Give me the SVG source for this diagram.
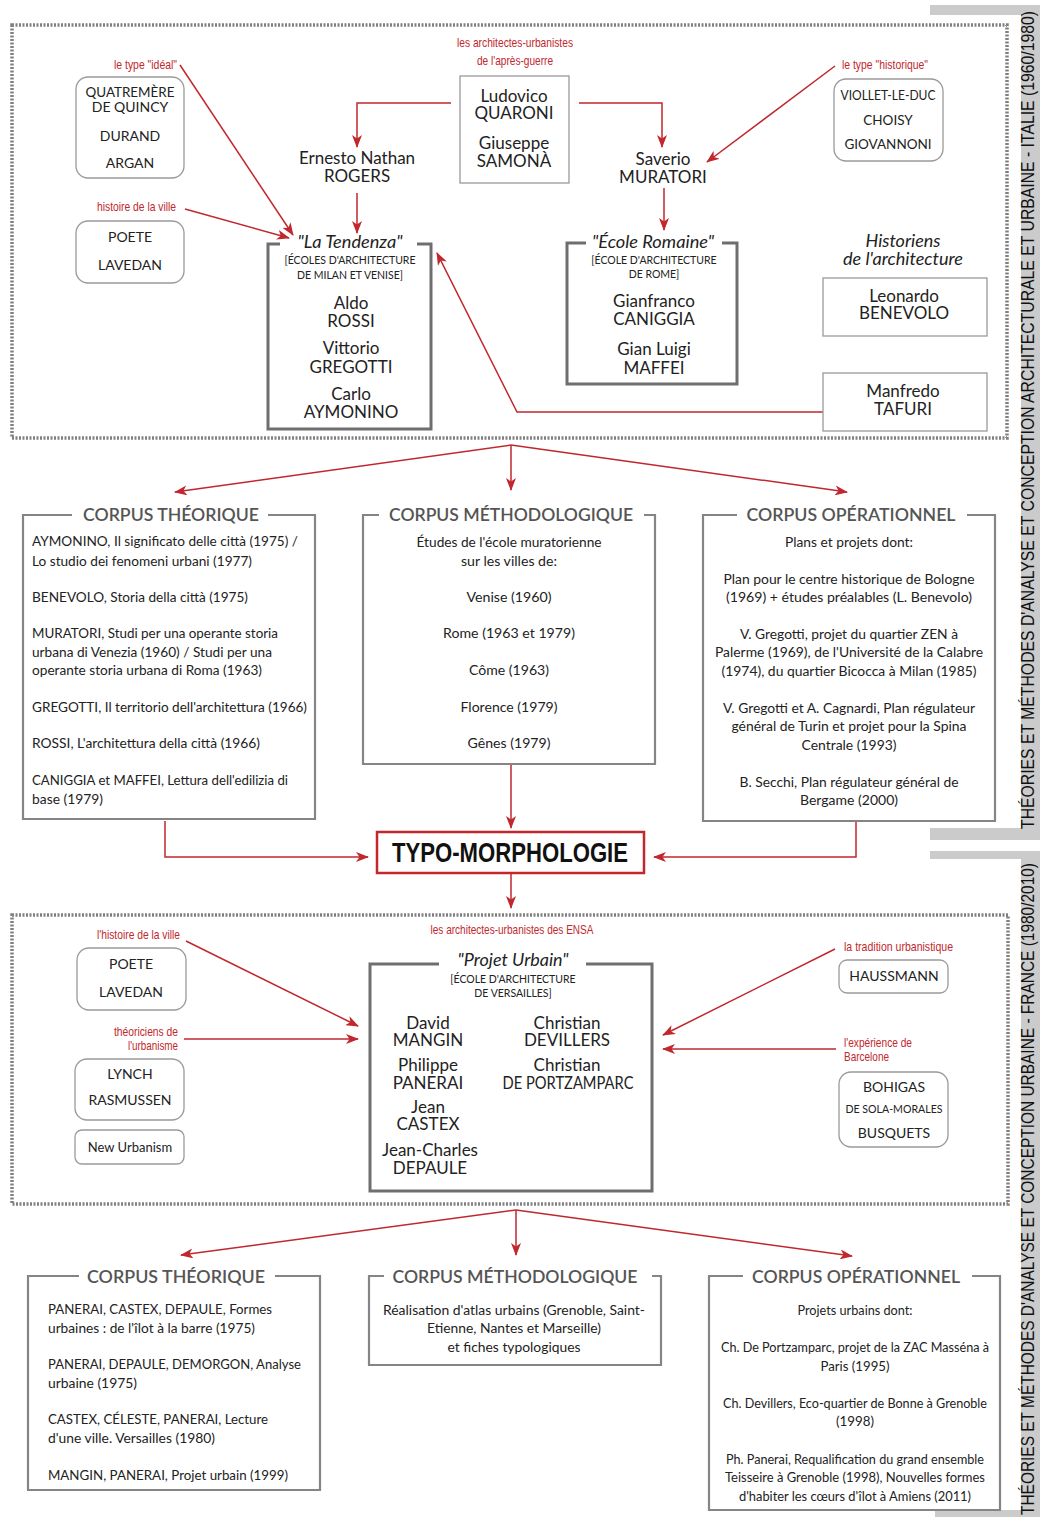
<svg xmlns="http://www.w3.org/2000/svg" width="1040" height="1517" viewBox="0 0 1040 1517">
<style>
text{font-family:Lato,"Open Sans","Liberation Sans",sans-serif;fill:#222;text-anchor:middle}
.nm{font-size:17px}
.sm{font-size:14px}
.xs{font-size:10.5px}
.it{font-style:italic;font-size:17.5px}
.rd{font-family:"Liberation Sans",Arial,sans-serif;font-size:13px;fill:#c1272d}
.st{text-anchor:start}
.en{text-anchor:end}
.bd{font-size:13.5px}
.ct{font-size:17px;fill:#555;font-weight:600}
.rb{fill:#fff;stroke:#9a9a9a;stroke-width:1.3}
.sq{fill:#fff;stroke:#9a9a9a;stroke-width:1.3}
.fr{fill:none;stroke:#6e6e6e;stroke-width:3}
.cf{fill:none;stroke:#858585;stroke-width:2.2}
.dot{fill:none;stroke:#808080;stroke-width:3.5;stroke-dasharray:2 1.5}
.band{fill:#cbcbcb}
.vt{text-anchor:start;font-family:"Liberation Sans",Arial,sans-serif;font-size:18px;fill:#111}
.cn{fill:none;stroke:#c1272d;stroke-width:1.5;marker-end:url(#ah)}
</style>
<defs>
<marker id="ah" markerWidth="13" markerHeight="10" refX="12" refY="5" orient="auto" markerUnits="userSpaceOnUse">
<path d="M0,0 L13,5 L0,10 L3.5,5 Z" fill="#c1272d"/>
</marker>
</defs>
<rect width="1040" height="1517" fill="#fff"/>

<g id="band-italie">
<rect class="band" x="930" y="5" width="110" height="10"/>
<rect class="band" x="1021" y="5" width="19" height="835"/>
<rect class="band" x="930" y="828" width="110" height="12"/>
<text class="vt" transform="translate(1034,829) rotate(-90)" x="0" y="0" textLength="818" lengthAdjust="spacingAndGlyphs">THÉORIES ET MÉTHODES D'ANALYSE ET CONCEPTION ARCHITECTURALE ET URBAINE - ITALIE (1960/1980)</text>
</g>
<g id="band-france">
<rect class="band" x="930" y="851" width="110" height="8"/>
<rect class="band" x="1021" y="851" width="19" height="666"/>
<rect class="band" x="935" y="1510" width="105" height="7"/>
<text class="vt" transform="translate(1034,1515) rotate(-90)" x="0" y="0" textLength="652" lengthAdjust="spacingAndGlyphs">THÉORIES ET MÉTHODES D'ANALYSE ET CONCEPTION URBAINE - FRANCE (1980/2010)</text>
</g>

<rect id="frame-italie" class="dot" x="12" y="25" width="995" height="413"/>
<rect id="frame-france" class="dot" x="12" y="915" width="996" height="289"/>

<g id="connectors">
<path class="cn" d="M451,103 H357 V147"/>
<path class="cn" d="M579,103 H662 V147"/>
<path class="cn" d="M180,65 L293,235"/>
<path class="cn" d="M185,209 L289,238"/>
<path class="cn" d="M835,66 L707,162"/>
<path class="cn" d="M357,193 V233"/>
<path class="cn" d="M664,188 V230"/>
<path class="cn" d="M823,412 H517 L437,253"/>
<path class="cn" d="M511,445 L175,492"/>
<path class="cn" d="M511,445 V490"/>
<path class="cn" d="M511,445 L847,492"/>
<path class="cn" d="M165,821 V857 H368"/>
<path class="cn" d="M856,821 V857 H654"/>
<path class="cn" d="M511,765 V828"/>
<path class="cn" d="M511,873 V908"/>
<path class="cn" d="M186,941 L358,1026"/>
<path class="cn" d="M184,1039 H358"/>
<path class="cn" d="M835,949 L663,1035"/>
<path class="cn" d="M836,1049 H663"/>
<path class="cn" d="M516,1210 L181,1255"/>
<path class="cn" d="M516,1210 V1255"/>
<path class="cn" d="M516,1210 L852,1256"/>
</g>

<g id="lbl-ideal"><text class="rd en" x="177" y="69" textLength="63" lengthAdjust="spacingAndGlyphs">le type "idéal"</text></g>
<g id="node-quatremere">
<rect class="rb" x="76" y="77" width="108" height="101" rx="12"/>
<text class="sm" x="130" y="97" textLength="89" lengthAdjust="spacingAndGlyphs">QUATREMÈRE</text>
<text class="sm" x="130" y="112">DE QUINCY</text>
<text class="sm" x="130" y="141">DURAND</text>
<text class="sm" x="130" y="168">ARGAN</text>
</g>
<g id="lbl-histoire1"><text class="rd en" x="176" y="211" textLength="79" lengthAdjust="spacingAndGlyphs">histoire de la ville</text></g>
<g id="node-poete1">
<rect class="rb" x="76" y="221" width="108" height="62" rx="12"/>
<text class="sm" x="130" y="242">POETE</text>
<text class="sm" x="130" y="270">LAVEDAN</text>
</g>
<g id="lbl-apres-guerre">
<text class="rd" x="515" y="47" textLength="116" lengthAdjust="spacingAndGlyphs">les architectes-urbanistes</text>
<text class="rd" x="515" y="65" textLength="76" lengthAdjust="spacingAndGlyphs">de l'après-guerre</text>
</g>
<g id="node-quaroni">
<rect class="sq" x="460" y="76" width="109" height="107"/>
<text class="nm" x="514" y="102">Ludovico</text>
<text class="nm" x="514" y="119">QUARONI</text>
<text class="nm" x="514" y="149">Giuseppe</text>
<text class="nm" x="514" y="167">SAMONÀ</text>
</g>
<g id="node-rogers">
<text class="nm" x="357" y="164">Ernesto Nathan</text>
<text class="nm" x="357" y="182">ROGERS</text>
</g>
<g id="node-muratori">
<text class="nm" x="663" y="165">Saverio</text>
<text class="nm" x="663" y="183">MURATORI</text>
</g>
<g id="lbl-historique"><text class="rd st" x="842" y="69" textLength="86" lengthAdjust="spacingAndGlyphs">le type "historique"</text></g>
<g id="node-viollet">
<rect class="rb" x="834" y="79" width="109" height="82" rx="12"/>
<text x="888" y="100" style="font-size:13.5px" textLength="95" lengthAdjust="spacingAndGlyphs">VIOLLET-LE-DUC</text>
<text x="888" y="125" style="font-size:13.5px">CHOISY</text>
<text x="888" y="149" style="font-size:13.5px">GIOVANNONI</text>
</g>
<g id="node-tendenza">
<path class="fr" d="M280,244 H268 V429 H431 V244 H417"/>
<text class="it" x="350" y="248" textLength="105" lengthAdjust="spacingAndGlyphs">"La Tendenza"</text>
<text class="xs" x="350" y="264">[ÉCOLES D'ARCHITECTURE</text>
<text class="xs" x="350" y="279">DE MILAN ET VENISE]</text>
<text class="nm" x="351" y="309">Aldo</text>
<text class="nm" x="351" y="327">ROSSI</text>
<text class="nm" x="351" y="354">Vittorio</text>
<text class="nm" x="351" y="373">GREGOTTI</text>
<text class="nm" x="351" y="400">Carlo</text>
<text class="nm" x="351" y="418">AYMONINO</text>
</g>
<g id="node-romaine">
<path class="fr" d="M586,243 H567 V384 H737 V243 H722"/>
<text class="it" x="653" y="248" textLength="122" lengthAdjust="spacingAndGlyphs">"École Romaine"</text>
<text class="xs" x="654" y="264">[ÉCOLE D'ARCHITECTURE</text>
<text class="xs" x="654" y="278">DE ROME]</text>
<text class="nm" x="654" y="307">Gianfranco</text>
<text class="nm" x="654" y="325">CANIGGIA</text>
<text class="nm" x="654" y="355">Gian Luigi</text>
<text class="nm" x="654" y="374">MAFFEI</text>
</g>
<g id="lbl-historiens">
<text class="it" x="903" y="247" textLength="75" lengthAdjust="spacingAndGlyphs">Historiens</text>
<text class="it" x="903" y="265" textLength="120" lengthAdjust="spacingAndGlyphs">de l'architecture</text>
</g>
<g id="node-benevolo">
<rect class="sq" x="823" y="278" width="164" height="58"/>
<text class="nm" x="904" y="302">Leonardo</text>
<text class="nm" x="904" y="319">BENEVOLO</text>
</g>
<g id="node-tafuri">
<rect class="sq" x="823" y="373" width="164" height="58"/>
<text class="nm" x="903" y="397">Manfredo</text>
<text class="nm" x="903" y="415">TAFURI</text>
</g>

<g id="corpus-theo-1">
<path class="cf" d="M72,515 H23 V819 H315 V515 H268"/>
<text class="ct" x="171" y="521" textLength="176" lengthAdjust="spacingAndGlyphs">CORPUS THÉORIQUE</text>
<text class="bd st" x="32" y="546" textLength="266" lengthAdjust="spacingAndGlyphs">AYMONINO, Il significato delle città (1975) /</text>
<text class="bd st" x="32" y="566" textLength="220" lengthAdjust="spacingAndGlyphs">Lo studio dei fenomeni urbani (1977)</text>
<text class="bd st" x="32" y="602" textLength="216" lengthAdjust="spacingAndGlyphs">BENEVOLO, Storia della città (1975)</text>
<text class="bd st" x="32" y="638" textLength="246" lengthAdjust="spacingAndGlyphs">MURATORI, Studi per una operante storia</text>
<text class="bd st" x="32" y="657" textLength="240" lengthAdjust="spacingAndGlyphs">urbana di Venezia (1960) / Studi per una</text>
<text class="bd st" x="32" y="675" textLength="230" lengthAdjust="spacingAndGlyphs">operante storia urbana di Roma (1963)</text>
<text class="bd st" x="32" y="712" textLength="275" lengthAdjust="spacingAndGlyphs">GREGOTTI, Il territorio dell'architettura (1966)</text>
<text class="bd st" x="32" y="748" textLength="228" lengthAdjust="spacingAndGlyphs">ROSSI, L'architettura della città (1966)</text>
<text class="bd st" x="32" y="785" textLength="256" lengthAdjust="spacingAndGlyphs">CANIGGIA et MAFFEI, Lettura dell'edilizia di</text>
<text class="bd st" x="32" y="804" textLength="71" lengthAdjust="spacingAndGlyphs">base (1979)</text>
</g>
<g id="corpus-meth-1">
<path class="cf" d="M379,515 H363 V764 H655 V515 H644"/>
<text class="ct" x="511" y="521" textLength="244" lengthAdjust="spacingAndGlyphs">CORPUS MÉTHODOLOGIQUE</text>
<text class="bd" x="509" y="547" textLength="185" lengthAdjust="spacingAndGlyphs">Études de l'école muratorienne</text>
<text class="bd" x="509" y="566" textLength="96" lengthAdjust="spacingAndGlyphs">sur les villes de:</text>
<text class="bd" x="509" y="602" textLength="85" lengthAdjust="spacingAndGlyphs">Venise (1960)</text>
<text class="bd" x="509" y="638" textLength="132" lengthAdjust="spacingAndGlyphs">Rome (1963 et 1979)</text>
<text class="bd" x="509" y="675" textLength="80" lengthAdjust="spacingAndGlyphs">Côme (1963)</text>
<text class="bd" x="509" y="712" textLength="97" lengthAdjust="spacingAndGlyphs">Florence (1979)</text>
<text class="bd" x="509" y="748" textLength="83" lengthAdjust="spacingAndGlyphs">Gênes (1979)</text>
</g>
<g id="corpus-oper-1">
<path class="cf" d="M737,515 H703 V821 H995 V515 H967"/>
<text class="ct" x="851" y="521" textLength="209" lengthAdjust="spacingAndGlyphs">CORPUS OPÉRATIONNEL</text>
<text class="bd" x="849" y="547" textLength="128" lengthAdjust="spacingAndGlyphs">Plans et projets dont:</text>
<text class="bd" x="849" y="584" textLength="251" lengthAdjust="spacingAndGlyphs">Plan pour le centre historique de Bologne</text>
<text class="bd" x="849" y="602" textLength="246" lengthAdjust="spacingAndGlyphs">(1969) + études préalables (L. Benevolo)</text>
<text class="bd" x="849" y="639" textLength="218" lengthAdjust="spacingAndGlyphs">V. Gregotti, projet du quartier ZEN à</text>
<text class="bd" x="849" y="657" textLength="268" lengthAdjust="spacingAndGlyphs">Palerme (1969), de l'Université de la Calabre</text>
<text class="bd" x="849" y="676" textLength="255" lengthAdjust="spacingAndGlyphs">(1974), du quartier Bicocca à Milan (1985)</text>
<text class="bd" x="849" y="713" textLength="252" lengthAdjust="spacingAndGlyphs">V. Gregotti et A. Cagnardi, Plan régulateur</text>
<text class="bd" x="849" y="731" textLength="235" lengthAdjust="spacingAndGlyphs">général de Turin et projet pour la Spina</text>
<text class="bd" x="849" y="750" textLength="95" lengthAdjust="spacingAndGlyphs">Centrale (1993)</text>
<text class="bd" x="849" y="787" textLength="219" lengthAdjust="spacingAndGlyphs">B. Secchi, Plan régulateur général de</text>
<text class="bd" x="849" y="805" textLength="98" lengthAdjust="spacingAndGlyphs">Bergame (2000)</text>
</g>

<g id="node-typo">
<rect x="377" y="832" width="267" height="41" fill="#fff" stroke="#c1272d" stroke-width="2.5"/>
<text x="510" y="862" style="font-family:'Liberation Sans',Arial,sans-serif;font-weight:bold;font-size:28px;fill:#111" textLength="236" lengthAdjust="spacingAndGlyphs">TYPO-MORPHOLOGIE</text>
</g>

<g id="lbl-ensa"><text class="rd" x="512" y="934" textLength="163" lengthAdjust="spacingAndGlyphs">les architectes-urbanistes des ENSA</text></g>
<g id="lbl-histoire2"><text class="rd en" x="180" y="939" textLength="83" lengthAdjust="spacingAndGlyphs">l'histoire de la ville</text></g>
<g id="node-poete2">
<rect class="rb" x="77" y="948" width="109" height="62" rx="12"/>
<text class="sm" x="131" y="969">POETE</text>
<text class="sm" x="131" y="997">LAVEDAN</text>
</g>
<g id="lbl-theoriciens">
<text class="rd en" x="178" y="1036" textLength="64" lengthAdjust="spacingAndGlyphs">théoriciens de</text>
<text class="rd en" x="178" y="1050" textLength="50" lengthAdjust="spacingAndGlyphs">l'urbanisme</text>
</g>
<g id="node-lynch">
<rect class="rb" x="75" y="1059" width="109" height="61" rx="12"/>
<text class="sm" x="130" y="1079">LYNCH</text>
<text class="sm" x="130" y="1105">RASMUSSEN</text>
</g>
<g id="node-newurbanism">
<rect class="rb" x="75" y="1130" width="109" height="34" rx="7"/>
<text x="130" y="1152" style="font-size:13px">New Urbanism</text>
</g>
<g id="node-projet-urbain">
<path class="fr" d="M439,964 H370 V1191 H652 V964 H586"/>
<text class="it" x="513" y="966" textLength="111" lengthAdjust="spacingAndGlyphs">"Projet Urbain"</text>
<text class="xs" x="513" y="983">[ÉCOLE D'ARCHITECTURE</text>
<text class="xs" x="513" y="997">DE VERSAILLES]</text>
<text class="nm" x="428" y="1029">David</text>
<text class="nm" x="428" y="1046">MANGIN</text>
<text class="nm" x="428" y="1071">Philippe</text>
<text class="nm" x="428" y="1089">PANERAI</text>
<text class="nm" x="428" y="1113">Jean</text>
<text class="nm" x="428" y="1130">CASTEX</text>
<text class="nm" x="430" y="1156">Jean-Charles</text>
<text class="nm" x="430" y="1174">DEPAULE</text>
<text class="nm" x="567" y="1029">Christian</text>
<text class="nm" x="567" y="1046">DEVILLERS</text>
<text class="nm" x="567" y="1071">Christian</text>
<text class="nm" x="568" y="1089" textLength="131" lengthAdjust="spacingAndGlyphs">DE PORTZAMPARC</text>
</g>
<g id="lbl-tradition"><text class="rd st" x="844" y="951" textLength="109" lengthAdjust="spacingAndGlyphs">la tradition urbanistique</text></g>
<g id="node-haussmann">
<rect class="rb" x="839" y="960" width="109" height="33" rx="8"/>
<text class="sm" x="894" y="981">HAUSSMANN</text>
</g>
<g id="lbl-barcelone">
<text class="rd st" x="844" y="1047" textLength="68" lengthAdjust="spacingAndGlyphs">l'expérience de</text>
<text class="rd st" x="844" y="1061" textLength="45" lengthAdjust="spacingAndGlyphs">Barcelone</text>
</g>
<g id="node-bohigas">
<rect class="rb" x="839" y="1072" width="109" height="75" rx="12"/>
<text class="sm" x="894" y="1092">BOHIGAS</text>
<text x="894" y="1113" style="font-size:12px" textLength="97" lengthAdjust="spacingAndGlyphs">DE SOLA-MORALES</text>
<text class="sm" x="894" y="1138">BUSQUETS</text>
</g>

<g id="corpus-theo-2">
<path class="cf" d="M79,1276 H28 V1490 H320 V1276 H275"/>
<text class="ct" x="176" y="1283" textLength="178" lengthAdjust="spacingAndGlyphs">CORPUS THÉORIQUE</text>
<text class="bd st" x="48" y="1314" textLength="224" lengthAdjust="spacingAndGlyphs">PANERAI, CASTEX, DEPAULE, Formes</text>
<text class="bd st" x="48" y="1333" textLength="207" lengthAdjust="spacingAndGlyphs">urbaines : de l'îlot à la barre (1975)</text>
<text class="bd st" x="48" y="1369" textLength="253" lengthAdjust="spacingAndGlyphs">PANERAI, DEPAULE, DEMORGON, Analyse</text>
<text class="bd st" x="48" y="1388" textLength="89" lengthAdjust="spacingAndGlyphs">urbaine (1975)</text>
<text class="bd st" x="48" y="1424" textLength="220" lengthAdjust="spacingAndGlyphs">CASTEX, CÉLESTE, PANERAI, Lecture</text>
<text class="bd st" x="48" y="1443" textLength="167" lengthAdjust="spacingAndGlyphs">d'une ville. Versailles (1980)</text>
<text class="bd st" x="48" y="1480" textLength="240" lengthAdjust="spacingAndGlyphs">MANGIN, PANERAI, Projet urbain (1999)</text>
</g>
<g id="corpus-meth-2">
<path class="cf" d="M384,1276 H369 V1365 H661 V1276 H652"/>
<text class="ct" x="515" y="1283" textLength="245" lengthAdjust="spacingAndGlyphs">CORPUS MÉTHODOLOGIQUE</text>
<text class="bd" x="514" y="1315" textLength="262" lengthAdjust="spacingAndGlyphs">Réalisation d'atlas urbains (Grenoble, Saint-</text>
<text class="bd" x="514" y="1333" textLength="174" lengthAdjust="spacingAndGlyphs">Etienne, Nantes et Marseille)</text>
<text class="bd" x="514" y="1352" textLength="133" lengthAdjust="spacingAndGlyphs">et fiches typologiques</text>
</g>
<g id="corpus-oper-2">
<path class="cf" d="M743,1276 H709 V1510 H1000 V1276 H972"/>
<text class="ct" x="856" y="1283" textLength="208" lengthAdjust="spacingAndGlyphs">CORPUS OPÉRATIONNEL</text>
<text class="bd" x="855" y="1315" textLength="115" lengthAdjust="spacingAndGlyphs">Projets urbains dont:</text>
<text class="bd" x="855" y="1352" textLength="268" lengthAdjust="spacingAndGlyphs">Ch. De Portzamparc, projet de la ZAC Masséna à</text>
<text class="bd" x="855" y="1371" textLength="69" lengthAdjust="spacingAndGlyphs">Paris (1995)</text>
<text class="bd" x="855" y="1408" textLength="264" lengthAdjust="spacingAndGlyphs">Ch. Devillers, Eco-quartier de Bonne à Grenoble</text>
<text class="bd" x="855" y="1426" textLength="38" lengthAdjust="spacingAndGlyphs">(1998)</text>
<text class="bd" x="855" y="1464" textLength="258" lengthAdjust="spacingAndGlyphs">Ph. Panerai, Requalification du grand ensemble</text>
<text class="bd" x="855" y="1482" textLength="260" lengthAdjust="spacingAndGlyphs">Teisseire à Grenoble (1998), Nouvelles formes</text>
<text class="bd" x="855" y="1501" textLength="232" lengthAdjust="spacingAndGlyphs">d'habiter les cœurs d'îlot à Amiens (2011)</text>
</g>
</svg>
